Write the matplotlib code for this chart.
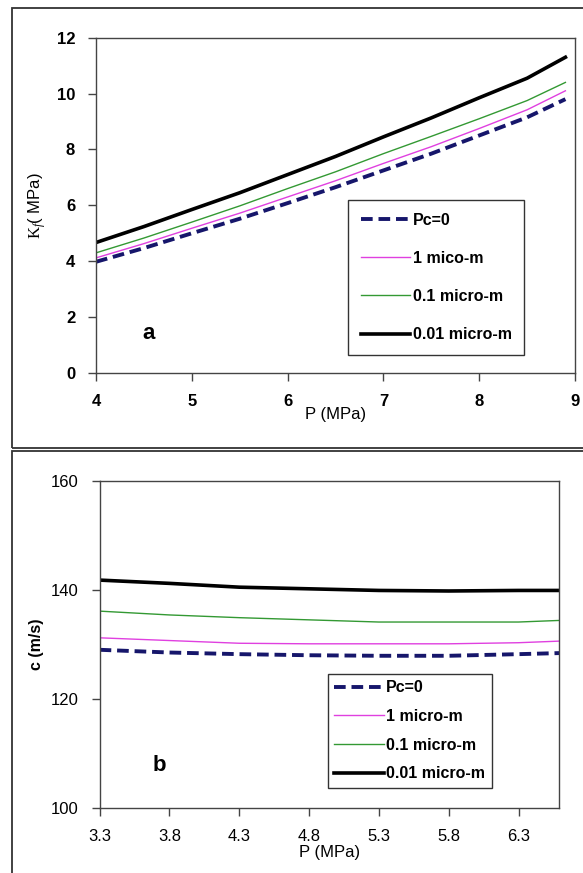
import matplotlib
matplotlib.use("Agg")
import matplotlib.pyplot as plt
from matplotlib.patches import Rectangle

plt.rcParams['font.family'] = ['Liberation Sans', 'DejaVu Sans']
plt.rcParams['mathtext.fontset'] = 'custom'
plt.rcParams['mathtext.rm'] = 'Liberation Serif'
plt.rcParams['mathtext.it'] = 'Liberation Serif:italic'

# ---- data panel a ----
p_a = [4.0, 4.5, 5.0, 5.5, 6.0, 6.5, 7.0, 7.5, 8.0, 8.5, 8.9]
kf_pc0 = [3.98, 4.47, 5.00, 5.52, 6.08, 6.65, 7.25, 7.85, 8.50, 9.15, 9.80]
kf_1 = [4.12, 4.63, 5.18, 5.72, 6.30, 6.88, 7.50, 8.10, 8.75, 9.42, 10.10]
kf_01 = [4.30, 4.83, 5.40, 5.98, 6.60, 7.20, 7.85, 8.47, 9.10, 9.75, 10.40]
kf_001 = [4.67, 5.24, 5.85, 6.45, 7.10, 7.75, 8.45, 9.13, 9.85, 10.55, 11.30]
labels_a = ["Pc=0", "1 mico-m", "0.1 micro-m", "0.01 micro-m"]
xticks_a = [4, 5, 6, 7, 8, 9]
yticks_a = [0, 2, 4, 6, 8, 10, 12]

# ---- data panel b ----
p_b = [3.3, 3.8, 4.3, 4.8, 5.3, 5.8, 6.3, 6.6]
c_pc0 = [129.0, 128.5, 128.2, 128.0, 127.9, 127.9, 128.2, 128.4]
c_1 = [131.2, 130.7, 130.2, 130.1, 130.1, 130.1, 130.3, 130.6]
c_01 = [136.1, 135.4, 134.9, 134.5, 134.1, 134.1, 134.1, 134.4]
c_001 = [141.8, 141.2, 140.5, 140.2, 139.9, 139.8, 139.9, 139.9]
labels_b = ["Pc=0", "1 micro-m", "0.1 micro-m", "0.01 micro-m"]
xticks_b = [3.3, 3.8, 4.3, 4.8, 5.3, 5.8, 6.3]
yticks_b = [100, 120, 140, 160]

W, H = 583, 873
fig = plt.figure(figsize=(W / 100, H / 100), dpi=100)

def fx(px):
    return px / W

def fy(py):
    return 1 - py / H

# outer frames
for (x0, y0, x1, y1) in [(12, 8, 590, 448), (12, 451, 590, 880)]:
    fig.patches.append(Rectangle((fx(x0), fy(y1)), fx(x1 - x0), (y1 - y0) / H,
                                 transform=fig.transFigure, fill=False,
                                 edgecolor='#333333', linewidth=1.3, clip_on=False))

styles = [dict(color='#16166b', lw=2.8, ls=(0, (3, 1.5))),
          dict(color='#e040e0', lw=1.0, ls='-'),
          dict(color='#339933', lw=1.0, ls='-'),
          dict(color='black', lw=2.6, ls='-')]

def style_axes(ax, bold_ticks):
    for s in ax.spines.values():
        s.set_color('#444444')
        s.set_linewidth(1.0)
    ax.tick_params(direction='out', length=6, width=1, color='#444444',
                   labelsize=12)
    ax.tick_params(axis='x', pad=9)
    ax.tick_params(axis='y', pad=9)
    for lab in ax.get_xticklabels() + ax.get_yticklabels():
        lab.set_fontweight('bold' if bold_ticks else 'normal')

# ---- panel a ----
ax1 = fig.add_axes([fx(96), fy(373), fx(575 - 96), (373 - 37.7) / H])
for y, st, lab in zip([kf_pc0, kf_1, kf_01, kf_001], styles, labels_a):
    ax1.plot(p_a, y, label=lab, **st)
ax1.set_xlim(4, 9)
ax1.set_ylim(0, 12)
ax1.set_xticks(xticks_a)
ax1.set_yticks(yticks_a)
style_axes(ax1, True)
ax1.set_xlabel("P (MPa)", fontsize=12, labelpad=-1)
ax1.set_ylabel(r"$\mathrm{K}_{\mathit{f}}$( MPa)", fontsize=12, labelpad=6)
ax1.text(0.109, 0.119, "a", transform=ax1.transAxes, fontsize=16,
         fontweight='bold', ha='center', va='center')
leg1 = ax1.legend(loc='upper left', bbox_to_anchor=(0.526, 0.516),
                  frameon=True, fancybox=False, edgecolor='black',
                  prop=dict(size=11.5, weight='bold'), handlelength=3.1,
                  handletextpad=0.15, labelspacing=1.45, borderpad=0.8,
                  borderaxespad=0)
leg1.get_frame().set_linewidth(1.0)

# ---- panel b ----
ax2 = fig.add_axes([fx(99.6), fy(807.7), fx(559 - 99.6), (807.7 - 481) / H])
for y, st, lab in zip([c_pc0, c_1, c_01, c_001], styles, labels_b):
    ax2.plot(p_b, y, label=lab, **st)
ax2.set_xlim(3.3, 6.59)
ax2.set_ylim(100, 160)
ax2.set_xticks(xticks_b)
ax2.set_xticklabels([f"{v:.1f}" for v in xticks_b])
ax2.set_yticks(yticks_b)
style_axes(ax2, False)
ax2.set_xlabel("P (MPa)", fontsize=12, labelpad=1)
ax2.set_ylabel("c (m/s)", fontsize=11.5, fontweight='bold', labelpad=5)
ax2.text(0.129, 0.128, "b", transform=ax2.transAxes, fontsize=16,
         fontweight='bold', ha='center', va='center')
leg2 = ax2.legend(loc='upper left', bbox_to_anchor=(0.497, 0.409),
                  frameon=True, fancybox=False, edgecolor='black',
                  prop=dict(size=11.5, weight='bold'), handlelength=3.1,
                  handletextpad=0.15, labelspacing=0.85, borderpad=0.4,
                  borderaxespad=0)
leg2.get_frame().set_linewidth(1.0)

fig.savefig("out.png", dpi=100)
